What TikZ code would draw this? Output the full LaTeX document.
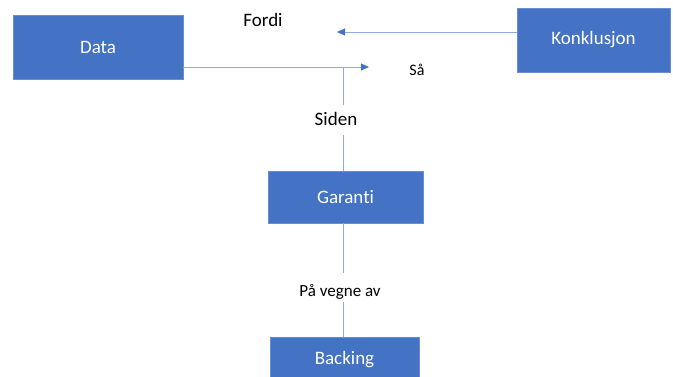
\documentclass[tikz,border=0pt]{standalone}
\usepackage{fontspec}
\setmainfont{Carlito}[Ligatures={NoCommon}]
\usetikzlibrary{arrows.meta}
\definecolor{boxblue}{HTML}{4472C4}
\definecolor{linkblue}{HTML}{8FAADC}
\tikzset{
  block/.style={fill=boxblue, draw=boxblue!80!white, line width=0.6pt, text=white,
    font=\fontsize{19}{22}\selectfont, inner sep=0pt},
  wordtxt/.style={text=black, font=\fontsize{19}{22}\selectfont, inner sep=0pt},
  link/.style={draw=linkblue, line width=1pt},
  tip/.style={-{Triangle[length=8pt,width=7pt,color=boxblue,fill=boxblue]}}
}
\begin{document}
\begin{tikzpicture}[x=1pt,y=-1pt]
  \useasboundingbox (0,0) rectangle (673,376);
  % boxes
  \node[block, minimum width=170pt, minimum height=64pt] (data) at (98,47) {Data};
  \node[block, minimum width=153pt, minimum height=64pt] (konk) at (593.5,40) {Konklusjon};
  \node[block, minimum width=155pt, minimum height=52pt] (gar) at (345.5,197) {Garanti};
  \node[block, minimum width=149pt, minimum height=44pt, anchor=north] (back) at (344.5,337) {Backing};
  % words along the links
  \node[wordtxt] (fordi) at (263,20) {Fordi};
  \node[wordtxt, font=\fontsize{16}{19}\selectfont] (saa) at (417,70) {Så};
  \node[wordtxt] (siden) at (336,119) {Siden};
  \node[wordtxt, font=\fontsize{17}{20}\selectfont] (vegne) at (340,292) {På vegne av};
  % connectors
  \coordinate (fordiend) at (337,32);
  \coordinate (saaend) at (369,67);
  \coordinate (joint) at (343,67);
  \coordinate (sidenA) at (343,105);
  \coordinate (sidenB) at (343,135);
  \coordinate (vegneA) at (343,273);
  \coordinate (vegneB) at (343,302);
  \draw[link, tip] (konk.west |- fordiend) -- (fordiend);
  \draw[link, tip] (data.east |- saaend) -- (saaend);
  \draw[link] (joint) -- (sidenA);
  \draw[link] (sidenB) -- (gar.north -| sidenB);
  \draw[link] (gar.south -| vegneA) -- (vegneA);
  \draw[link] (vegneB) -- (back.north -| vegneB);
\end{tikzpicture}
\end{document}
